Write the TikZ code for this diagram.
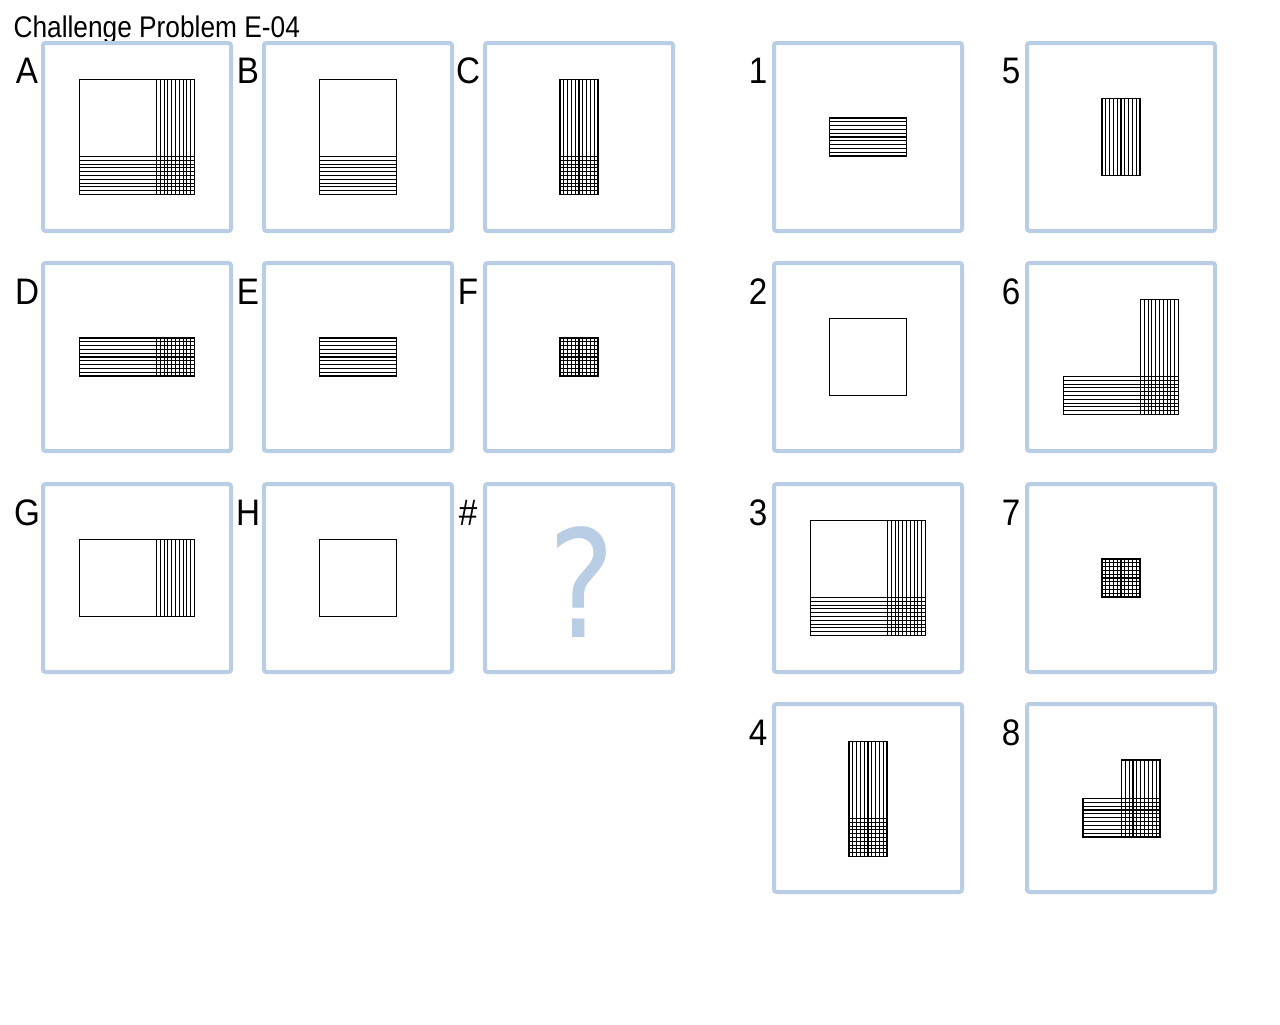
\documentclass[tikz,border=0pt]{standalone}
\usepackage{fontspec}
\setmainfont{Liberation Sans}
\newfontfamily\labelfont[FakeStretch=0.9]{Liberation Sans}
\newfontfamily\titlefont[FakeStretch=0.88]{Liberation Sans}
\newfontfamily\qfont[FakeStretch=0.84]{DejaVu Sans}
\definecolor{panelblue}{HTML}{B9CDE5}
\def\panel(#1,#2){\draw[panelblue, line width=0.8mm, rounded corners=0.5mm] (#1,#2) rectangle ++(188,188);}
\def\blank(#1,#2)(#3,#4){\draw (#1,#2) rectangle (#3,#4);}
\def\hstripe(#1,#2)(#3,#4){\draw (#1,#2) rectangle (#3,#4); \foreach \k in {1,...,9} {\draw (#1,{#2+(#4-#2)*\k/10}) -- (#3,{#2+(#4-#2)*\k/10});}}
\def\vstripe(#1,#2)(#3,#4){\draw (#1,#2) rectangle (#3,#4); \foreach \k in {1,...,9} {\draw ({#1+(#3-#1)*\k/10},#2) -- ({#1+(#3-#1)*\k/10},#4);}}
\def\xstripe(#1,#2)(#3,#4){\hstripe(#1,#2)(#3,#4) \vstripe(#1,#2)(#3,#4)}
\tikzset{lbl/.style={font=\labelfont\fontsize{21}{21}\selectfont, inner sep=0pt, anchor=base}}

\begin{document}
\begin{tikzpicture}[x=0.2mm, y=-0.2mm, line width=0.65pt]
		\useasboundingbox (0,0) rectangle (1280,1024);
		%%%%% START %%%%%
		\node[font=\titlefont\fontsize{17}{17}\selectfont, inner sep=0pt, anchor=base west] (title) at (13,37) {Challenge Problem E-04};
		
		% problem panels
		\panel(43,43) \panel(264,43) \panel(485,43)
		\panel(43,263) \panel(264,263) \panel(485,263)
		\panel(43,484) \panel(264,484) \panel(485,484)
		
		\node[lbl] (labA) at (27,83) {A};
		\node[lbl] (labB) at (248,83) {B};
		\node[lbl] (labC) at (468,83) {C};
		\node[lbl] (labD) at (27,304) {D};
		\node[lbl] (labE) at (248,304) {E};
		\node[lbl] (labF) at (468,304) {F};
		\node[lbl] (labG) at (27,525) {G};
		\node[lbl] (labH) at (248,525) {H};
		\node[lbl] (labQ) at (468,525) {\#};
		
		% A
		\blank(79.5,79.5)(156.5,156.5)
		\vstripe(156.5,79.5)(194.5,156.5)
		\hstripe(79.5,156.5)(156.5,194.5)
		\xstripe(156.5,156.5)(194.5,194.5)
		% B
		\blank(319.5,79.5)(396.5,156.5)
		\hstripe(319.5,156.5)(396.5,194.5)
		% C
		\vstripe(560,79.5)(598,156.5)
		\xstripe(560,156.5)(598,194.5)
		% D
		\hstripe(79.5,338)(156.5,376)
		\xstripe(156.5,338)(194.5,376)
		% E
		\hstripe(319.5,338)(396.5,376)
		% F
		\xstripe(560,338)(598,376)
		% G
		\blank(79.5,539.5)(156.5,616.5)
		\vstripe(156.5,539.5)(194.5,616.5)
		% H
		\blank(319.5,539.5)(396.5,616.5)
		% #
		\node[font=\qfont\fontsize{85}{85}\selectfont, text=panelblue, inner sep=0pt, anchor=base] (qmark) at (582,637) {?};
		
		% answer panels
		\panel(774,43) \panel(1027,43)
		\panel(774,263) \panel(1027,263)
		\panel(774,484) \panel(1027,484)
		\panel(774,704) \panel(1027,704)
		
		\node[lbl] (lab1) at (758,83) {1};
		\node[lbl] (lab2) at (758,304) {2};
		\node[lbl] (lab3) at (758,525) {3};
		\node[lbl] (lab4) at (758,745) {4};
		\node[lbl] (lab5) at (1011,83) {5};
		\node[lbl] (lab6) at (1011,304) {6};
		\node[lbl] (lab7) at (1011,525) {7};
		\node[lbl] (lab8) at (1011,745) {8};
		
		% 1
		\hstripe(829.5,118)(906.5,156)
		% 2
		\blank(829.5,318.5)(906.5,395.5)
		% 3
		\blank(810.5,520.5)(887.5,597.5)
		\vstripe(887.5,520.5)(925.5,597.5)
		\hstripe(810.5,597.5)(887.5,635.5)
		\xstripe(887.5,597.5)(925.5,635.5)
		% 4
		\vstripe(849,741.5)(887,818.5)
		\xstripe(849,818.5)(887,856.5)
		% 5
		\vstripe(1102,98.5)(1140,175.5)
		% 6
		\vstripe(1140.5,299.5)(1178.5,376.5)
		\hstripe(1063.5,376.5)(1140.5,414.5)
		\xstripe(1140.5,376.5)(1178.5,414.5)
		% 7
		\xstripe(1102,559)(1140,597)
		% 8
		\vstripe(1121.5,760)(1160,798.5)
		\hstripe(1083,798.5)(1121.5,837)
		\xstripe(1121.5,798.5)(1160,837)
		%%%%% END %%%%%
	\end{tikzpicture}
\end{document}
